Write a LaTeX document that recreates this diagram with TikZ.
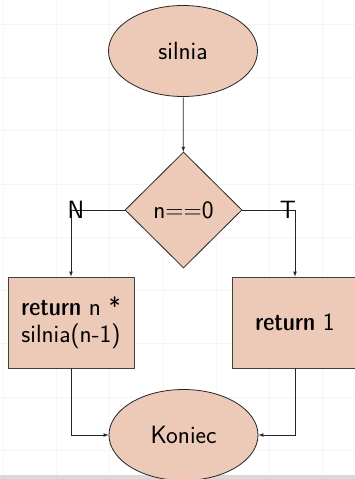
\documentclass[tikz,border=0pt]{standalone}
\usetikzlibrary{shapes.geometric, arrows, positioning}

\definecolor{peach}{HTML}{EDCAB7}
\newcommand{\kw}[1]{{\fontseries{sbc}\selectfont #1}}

\begin{document}
\begin{tikzpicture}[
				x=1pt, y=-1pt,
				font=\sffamily\fontsize{25}{27}\selectfont,
				terminal/.style={ellipse, draw=black!85, line width=0.8pt, fill=peach, minimum width=149pt, minimum height=91pt, inner sep=0pt},
				decision/.style={diamond, draw=black!85, line width=0.8pt, fill=peach, aspect=1, minimum width=117pt, minimum height=116pt, inner sep=0pt},
				block/.style={rectangle, draw=black!75, line width=0.8pt, fill=peach, minimum width=126pt, minimum height=91pt, align=center, inner sep=2pt},
				flow/.style={->, >=latex, line width=0.7pt, black!85},
				every node/.style={anchor=center}
				]
				
				\useasboundingbox (0,0) rectangle (355,479);
				\fill[white] (0,0) rectangle (355,479);
				% background grid
				\foreach \i in {0,...,6}
					\draw[black!4, line width=0.8pt] (3+53.3*\i,0) -- (3+53.3*\i,479);
				\foreach \j in {0,...,8}
					\draw[black!4, line width=0.8pt] (0,24+53.3*\j) -- (355,24+53.3*\j);
				\fill[black!15] (0,475) rectangle (355,479);
				
				\node[terminal] (silnia) at (183,51) {silnia};
				\node[decision] (test) at (183.5,210) {n==0};
				\node[block] (recur) at (71,322.5) {\kw{return} n *\\silnia(n-1)};
				\node[block] (base) at (295,322.5) {\kw{return} 1};
				\node[terminal] (koniec) at (183.5,435) {Koniec};
				
				\draw[flow] (silnia) -- (test);
				\draw[flow] (test.west) -| (recur.north);
				\draw[flow] (test.east) -| (base.north);
				\draw[flow] (recur.south) |- (koniec.west);
				\draw[flow] (base.south) |- (koniec.east);
				
				\node (no) at (76,210) {N};
				\node (yes) at (288,210) {T};
				\end{tikzpicture}
\end{document}
